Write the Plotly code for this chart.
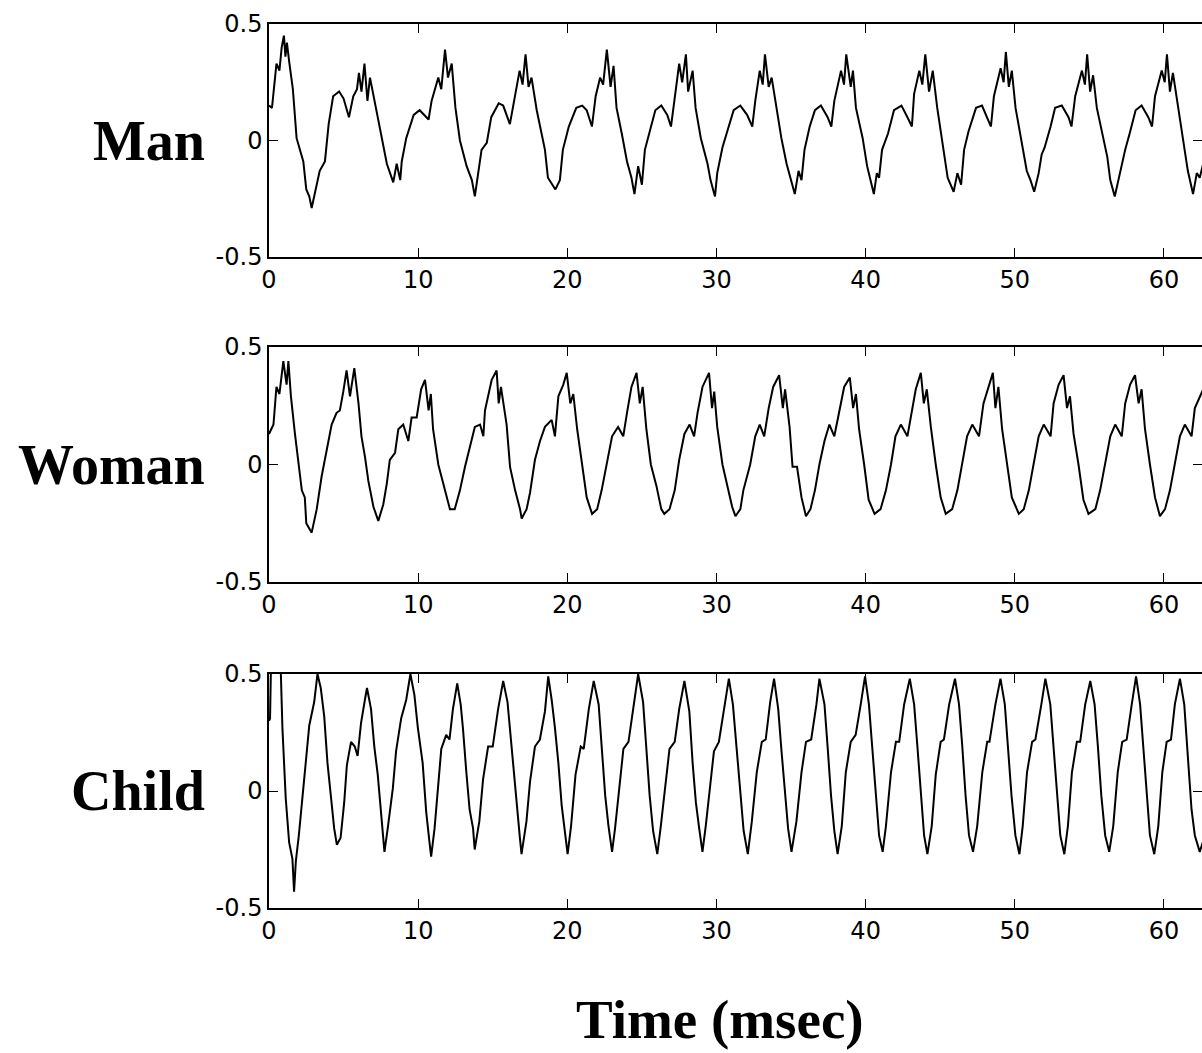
import plotly.graph_objects as go

# ---------------- data ----------------
man_t = [0.0, 0.2, 0.5, 0.7, 0.85, 1.0, 1.1, 1.2, 1.35, 1.6, 1.85, 2.3, 2.5, 2.7, 2.86, 3.08, 3.4, 3.75,
         4.0, 4.3, 4.7, 5.0, 5.36, 5.65, 5.9, 6.03, 6.2, 6.4, 6.6, 6.77, 7.2, 7.55, 7.9, 8.33, 8.56, 8.8,
         8.9, 9.2, 9.7, 10.1, 10.7, 10.9, 11.35, 11.55, 11.8, 12.0, 12.25, 12.5, 12.8, 13.25, 13.6, 13.8,
         14.0, 14.25, 14.6, 14.9, 15.4, 15.7, 16.15, 16.5, 16.8, 17.0, 17.2, 17.4, 17.6, 17.95, 18.5, 18.7,
         19.2, 19.5, 19.7, 20.1, 20.6, 21.0, 21.3, 21.65, 21.9, 22.2, 22.4, 22.65, 22.9, 23.1, 23.3, 23.65,
         24.0, 24.3, 24.5, 24.75, 25.0, 25.2, 25.5, 25.9, 26.3, 26.7, 26.95, 27.2, 27.5, 27.7, 27.95, 28.1,
         28.4, 28.6, 28.95, 29.4, 29.6, 29.9, 30.05, 30.4, 30.7, 31.15, 31.6, 32.05, 32.4, 32.6, 32.9, 33.1,
         33.25, 33.5, 33.7, 34.0, 34.35, 34.7, 35.0, 35.25, 35.5, 35.7, 35.9, 36.25, 36.6, 37.0, 37.45, 37.7,
         37.9, 38.35, 38.55, 38.7, 39.0, 39.15, 39.35, 39.8, 40.1, 40.55, 40.75, 40.9, 41.1, 41.5, 41.9,
         42.4, 42.8, 43.1, 43.25, 43.6, 43.8, 44.0, 44.25, 44.5, 44.8, 45.15, 45.5, 45.9, 46.15, 46.4, 46.6,
         46.9, 47.4, 47.8, 48.4, 48.6, 49.05, 49.25, 49.4, 49.6, 49.8, 50.05, 50.4, 50.8, 51.05, 51.3, 51.6,
         51.8, 52.0, 52.4, 52.7, 53.15, 53.6, 53.8, 54.05, 54.5, 54.7, 54.85, 55.05, 55.25, 55.5, 55.85,
         56.2, 56.4, 56.7, 57.05, 57.4, 57.7, 58.1, 58.5, 58.95, 59.2, 59.4, 59.85, 60.05, 60.2, 60.4, 60.6,
         60.95, 61.3, 61.6, 61.95, 62.2, 62.4, 62.7]
man_v = [0.15, 0.14, 0.33, 0.30, 0.40, 0.45, 0.36, 0.42, 0.34, 0.22, 0.01, -0.09, -0.21, -0.24, -0.29, -0.23, -0.13, -0.09,
         0.07, 0.19, 0.21, 0.18, 0.10, 0.19, 0.22, 0.29, 0.21, 0.33, 0.17, 0.27, 0.13, 0.03, -0.10, -0.18, -0.10, -0.17,
         -0.09, 0.01, 0.11, 0.13, 0.09, 0.17, 0.27, 0.22, 0.39, 0.27, 0.33, 0.14, 0.0, -0.11, -0.17, -0.24,
         -0.14, -0.04, -0.01, 0.10, 0.16, 0.15, 0.07, 0.20, 0.30, 0.24, 0.37, 0.23, 0.27, 0.13, -0.04, -0.16,
         -0.21, -0.17, -0.04, 0.06, 0.14, 0.15, 0.13, 0.06, 0.19, 0.27, 0.24, 0.39, 0.23, 0.32, 0.14, 0.03,
         -0.09, -0.16, -0.23, -0.11, -0.19, -0.04, 0.03, 0.13, 0.15, 0.11, 0.06, 0.19, 0.33, 0.25, 0.37, 0.21,
         0.30, 0.14, 0.01, -0.10, -0.17, -0.24, -0.14, -0.03, 0.03, 0.13, 0.15, 0.11, 0.06, 0.17, 0.30, 0.24,
         0.37, 0.23, 0.27, 0.14, 0.01, -0.10, -0.17, -0.23, -0.13, -0.17, -0.04, 0.06, 0.13, 0.15, 0.10, 0.06,
         0.17, 0.30, 0.24, 0.37, 0.23, 0.30, 0.14, 0.01, -0.11, -0.23, -0.14, -0.16, -0.04, 0.03, 0.13,
         0.15, 0.10, 0.06, 0.20, 0.30, 0.24, 0.37, 0.21, 0.30, 0.14, 0.0, -0.16, -0.22, -0.14, -0.19, -0.04,
         0.04, 0.14, 0.15, 0.06, 0.19, 0.31, 0.25, 0.38, 0.23, 0.30, 0.14, 0.01, -0.13, -0.17, -0.22, -0.14,
         -0.06, -0.03, 0.06, 0.14, 0.15, 0.10, 0.06, 0.19, 0.30, 0.24, 0.37, 0.21, 0.28, 0.14, 0.03,
         -0.07, -0.17, -0.24, -0.14, -0.04, 0.03, 0.13, 0.15, 0.10, 0.06, 0.19, 0.30, 0.25, 0.37, 0.21, 0.29,
         0.14, 0.01, -0.13, -0.23, -0.14, -0.16, -0.08]

woman_t = [0.0, 0.3, 0.5, 0.7, 0.96, 1.1, 1.18, 1.3, 1.47, 1.74, 1.97, 2.2, 2.4, 2.5, 2.86, 3.2, 3.53, 3.87,
           4.2, 4.53, 4.75, 4.98, 5.2, 5.43, 5.72, 6.0, 6.2, 6.44, 6.66, 7.0, 7.33, 7.66, 7.9, 8.1, 8.45, 8.67,
           9.0, 9.34, 9.56, 9.9, 10.2, 10.46, 10.7, 10.85, 11.0, 11.35, 11.8, 12.13, 12.45, 12.8, 13.14, 13.5,
           13.8, 14.15, 14.37, 14.48, 14.93, 15.26, 15.4, 15.55, 15.93, 16.16, 16.5, 16.83, 16.94, 17.27, 17.5,
           17.83, 18.17, 18.5, 18.95, 19.17, 19.4, 19.73, 19.96, 20.2, 20.4, 20.66, 21.0, 21.3, 21.66, 22.0,
           22.3, 22.65, 23.0, 23.4, 23.75, 24.0, 24.3, 24.64, 24.86, 25.05, 25.3, 25.6, 25.97, 26.3, 26.5,
           26.85, 27.2, 27.5, 27.85, 28.2, 28.5, 28.73, 29.06, 29.5, 29.7, 29.85, 30.05, 30.4, 30.7, 31.05,
           31.27, 31.6, 31.8, 32.26, 32.6, 32.9, 33.2, 33.5, 33.8, 34.2, 34.45, 34.6, 34.9, 35.1, 35.4, 35.7,
           36.0, 36.3, 36.6, 36.9, 37.24, 37.57, 37.9, 38.2, 38.56, 38.94, 39.16, 39.35, 39.56, 39.9, 40.2,
           40.6, 41.0, 41.36, 41.7, 42.0, 42.36, 42.8, 43.14, 43.36, 43.7, 43.9, 44.1, 44.37, 44.7, 45.03,
           45.37, 45.8, 46.15, 46.5, 46.8, 47.15, 47.6, 47.9, 48.26, 48.53, 48.7, 48.9, 49.15, 49.5, 49.8,
           50.27, 50.6, 50.94, 51.27, 51.6, 51.94, 52.4, 52.6, 52.94, 53.27, 53.5, 53.7, 53.94, 54.27, 54.6,
           54.94, 55.4, 55.72, 56.06, 56.4, 56.73, 57.17, 57.4, 57.73, 58.06, 58.3, 58.5, 58.73, 59.06, 59.4,
           59.73, 60.07, 60.4, 60.73, 61.07, 61.4, 61.85, 62.07, 62.4, 62.7]
woman_v = [0.13, 0.17, 0.33, 0.30, 0.44, 0.36, 0.34, 0.44, 0.29, 0.13, 0.0, -0.11, -0.14, -0.25, -0.29, -0.19, -0.05, 0.07,
           0.17, 0.22, 0.23, 0.31, 0.40, 0.29, 0.41, 0.26, 0.12, 0.03, -0.07, -0.18, -0.24, -0.17, -0.08, 0.02, 0.05, 0.15,
           0.17, 0.10, 0.20, 0.20, 0.32, 0.36, 0.23, 0.30, 0.15, 0.0, -0.11, -0.19, -0.19, -0.11, -0.01, 0.09,
           0.16, 0.17, 0.12, 0.23, 0.36, 0.40, 0.26, 0.33, 0.17, -0.01, -0.11, -0.19, -0.23, -0.19, -0.12,
           0.02, 0.10, 0.16, 0.19, 0.12, 0.29, 0.34, 0.39, 0.26, 0.30, 0.15, -0.01, -0.14, -0.21, -0.19,
           -0.11, 0.0, 0.12, 0.16, 0.12, 0.22, 0.33, 0.39, 0.26, 0.33, 0.15, 0.0, -0.09, -0.19, -0.21,
           -0.19, -0.11, 0.02, 0.13, 0.17, 0.12, 0.22, 0.33, 0.39, 0.24, 0.31, 0.16, 0.0, -0.09, -0.18,
           -0.22, -0.19, -0.11, 0.0, 0.12, 0.17, 0.12, 0.24, 0.33, 0.38, 0.24, 0.32, 0.16, -0.01, -0.01, -0.14,
           -0.22, -0.19, -0.11, 0.0, 0.10, 0.17, 0.12, 0.22, 0.33, 0.37, 0.24, 0.30, 0.15, 0.0, -0.15,
           -0.21, -0.19, -0.11, 0.0, 0.12, 0.17, 0.12, 0.24, 0.32, 0.39, 0.26, 0.32, 0.16, 0.0, -0.14,
           -0.21, -0.19, -0.11, 0.02, 0.12, 0.17, 0.12, 0.26, 0.34, 0.39, 0.24, 0.33, 0.15, 0.0, -0.14,
           -0.21, -0.19, -0.11, 0.0, 0.12, 0.17, 0.12, 0.26, 0.34, 0.38, 0.24, 0.29, 0.13, 0.0, -0.15,
           -0.21, -0.19, -0.11, 0.0, 0.12, 0.17, 0.12, 0.26, 0.34, 0.38, 0.26, 0.32, 0.15, 0.0, -0.14,
           -0.22, -0.19, -0.11, 0.0, 0.12, 0.17, 0.12, 0.24, 0.29, 0.33]

child_t = [0.0, 0.07, 0.15, 0.3, 0.75, 0.9, 1.12, 1.35, 1.57, 1.68, 1.8, 2.0, 2.24, 2.47, 2.7, 3.03, 3.25, 3.47,
           3.7, 3.92, 4.15, 4.37, 4.55, 4.8, 5.04, 5.22, 5.5, 5.75, 5.94, 6.17, 6.43, 6.57, 6.84, 7.06, 7.29,
           7.5, 7.74, 7.96, 8.3, 8.52, 8.86, 9.2, 9.48, 9.75, 9.98, 10.3, 10.54, 10.76, 10.87, 11.1, 11.32,
           11.55, 11.88, 12.1, 12.33, 12.62, 12.85, 13.0, 13.23, 13.45, 13.68, 13.79, 14.1, 14.35, 14.69, 15.0,
           15.36, 15.7, 15.99, 16.14, 16.37, 16.6, 16.82, 16.93, 17.26, 17.5, 17.83, 18.16, 18.5, 18.72, 18.95,
           19.17, 19.4, 19.62, 19.84, 20.02, 20.25, 20.55, 20.9, 21.1, 21.44, 21.77, 22.1, 22.32, 22.54, 22.76,
           23.0, 23.2, 23.43, 23.76, 24.1, 24.42, 24.75, 25.08, 25.3, 25.52, 25.75, 26.03, 26.25, 26.5, 26.85,
           27.2, 27.5, 27.85, 28.18, 28.4, 28.62, 28.84, 29.06, 29.28, 29.5, 29.83, 30.16, 30.5, 30.83, 31.1,
           31.34, 31.6, 31.82, 32.1, 32.37, 32.7, 33.04, 33.3, 33.6, 33.86, 34.14, 34.36, 34.59, 34.8, 35.03,
           35.36, 35.7, 36.0, 36.35, 36.7, 36.9, 37.24, 37.46, 37.68, 37.9, 38.12, 38.4, 38.67, 39.0, 39.33,
           39.67, 39.96, 40.22, 40.44, 40.66, 40.9, 41.14, 41.36, 41.7, 42.03, 42.25, 42.58, 42.96, 43.25,
           43.47, 43.7, 43.92, 44.14, 44.43, 44.7, 45.03, 45.25, 45.6, 45.99, 46.26, 46.48, 46.7, 46.93, 47.2,
           47.48, 47.82, 48.15, 48.3, 48.7, 49.04, 49.33, 49.55, 49.78, 50.04, 50.31, 50.53, 50.82, 51.16,
           51.38, 51.78, 52.05, 52.38, 52.6, 52.83, 53.05, 53.32, 53.56, 53.83, 54.16, 54.38, 54.72, 55.06,
           55.35, 55.57, 55.8, 56.06, 56.33, 56.6, 56.9, 57.2, 57.5, 57.84, 58.13, 58.4, 58.62, 58.84, 59.06,
           59.35, 59.62, 59.89, 60.18, 60.47, 60.73, 61.07, 61.36, 61.63, 61.85, 62.07, 62.4, 62.7]
child_v = [0.30, 0.31, 0.60, 0.60, 0.60, 0.27, -0.03, -0.22, -0.29, -0.43, -0.30, -0.19, -0.02, 0.12, 0.28, 0.38, 0.50, 0.44,
           0.32, 0.12, -0.02, -0.16, -0.23, -0.20, -0.05, 0.11, 0.21, 0.19, 0.15, 0.29, 0.39, 0.44, 0.35, 0.19, 0.07,
           -0.09, -0.26, -0.16, 0.01, 0.17, 0.31, 0.39, 0.50, 0.41, 0.27, 0.12, -0.09, -0.22, -0.28, -0.16, 0.01,
           0.18, 0.24, 0.22, 0.35, 0.46, 0.37, 0.27, 0.08, -0.08, -0.16, -0.25, -0.13, 0.05, 0.19, 0.19,
           0.35, 0.47, 0.38, 0.27, 0.12, -0.06, -0.20, -0.27, -0.13, 0.04, 0.19, 0.22, 0.34, 0.49, 0.39,
           0.27, 0.12, -0.06, -0.19, -0.27, -0.15, 0.07, 0.19, 0.18, 0.35, 0.47, 0.37, 0.18, -0.02, -0.15,
           -0.26, -0.16, -0.02, 0.18, 0.21, 0.35, 0.50, 0.38, 0.18, -0.02, -0.17, -0.27, -0.16, -0.02, 0.18,
           0.21, 0.35, 0.47, 0.34, 0.12, -0.05, -0.16, -0.26, -0.15, -0.02, 0.17, 0.21, 0.35, 0.48, 0.37,
           0.18, -0.02, -0.17, -0.27, -0.13, 0.08, 0.21, 0.22, 0.38, 0.48, 0.35, 0.17, -0.02, -0.16, -0.26,
           -0.13, 0.08, 0.21, 0.22, 0.37, 0.48, 0.37, 0.18, -0.02, -0.17, -0.27, -0.15, 0.08, 0.21, 0.24,
           0.37, 0.49, 0.37, 0.19, -0.02, -0.19, -0.26, -0.15, 0.08, 0.21, 0.21, 0.37, 0.48, 0.37,
           0.19, -0.02, -0.19, -0.27, -0.15, 0.07, 0.21, 0.22, 0.37, 0.48, 0.37, 0.19, -0.02, -0.19, -0.26,
           -0.15, 0.08, 0.21, 0.21, 0.37, 0.48, 0.37, 0.19, -0.02, -0.19, -0.27, -0.15, 0.08, 0.21,
           0.22, 0.37, 0.48, 0.37, 0.19, -0.02, -0.19, -0.27, -0.15, 0.08, 0.21, 0.21, 0.37, 0.47,
           0.37, 0.19, -0.02, -0.19, -0.26, -0.15, 0.08, 0.21, 0.22, 0.37, 0.49, 0.37, 0.19, -0.02, -0.19,
           -0.27, -0.15, 0.08, 0.21, 0.22, 0.37, 0.48, 0.37, 0.12, -0.08, -0.19, -0.26, -0.20]

panel_labels = ["Man", "Woman", "Child"]
x_tick_vals = [0, 10, 20, 30, 40, 50, 60]
x_tick_text = ["0", "10", "20", "30", "40", "50", "60"]
y_tick_vals = [-0.5, 0, 0.5]
y_tick_text = ["-0.5", "0", "0.5"]
x_title = "Time (msec)"

# ---------------- layout geometry (pixels) ----------------
W, H = 1202, 1053
plot_left = 269
panels_px = [(24, 257), (347, 582), (674, 908)]  # top, bottom of each frame
label_right = 207


def py(p):
    return 1 - p / H


fig = go.Figure()
series = [(man_t, man_v), (woman_t, woman_v), (child_t, child_v)]
for i, (t, v) in enumerate(series):
    suffix = "" if i == 0 else str(i + 1)
    fig.add_trace(go.Scatter(x=t, y=v, mode="lines", xaxis="x" + suffix, yaxis="y" + suffix,
                             line=dict(color="black", width=2), showlegend=False, hoverinfo="skip"))

axis_common = dict(showline=True, linecolor="black", linewidth=1.5, mirror="ticks",
                   ticks="inside", ticklen=9, tickwidth=1.3, tickcolor="black",
                   showgrid=False, zeroline=False, automargin=False,
                   tickfont=dict(family="DejaVu Sans, Arial", size=24, color="black"))

layout = dict(width=W, height=H, margin=dict(l=0, r=0, t=0, b=0),
              paper_bgcolor="white", plot_bgcolor="white", showlegend=False,
              template="none")
annotations = []
for i, (top, bot) in enumerate(panels_px):
    suffix = "" if i == 0 else str(i + 1)
    layout["xaxis" + suffix] = dict(axis_common, domain=[plot_left / W, 1], range=[0, 62.55],
                                    tickvals=x_tick_vals, ticktext=x_tick_text,
                                    anchor="y" + suffix)
    layout["yaxis" + suffix] = dict(axis_common, domain=[py(bot), py(top)], range=[-0.5, 0.5],
                                    tickvals=y_tick_vals, ticktext=y_tick_text,
                                    anchor="x" + suffix)
    mid = (top + bot) / 2
    annotations.append(dict(text=panel_labels[i], xref="paper", yref="paper",
                            x=label_right / W, y=py(mid), xanchor="right", yanchor="middle",
                            showarrow=False,
                            font=dict(family="Liberation Serif, Times New Roman", size=56,
                                      color="black", weight="bold")))
annotations.append(dict(text=x_title, xref="paper", yref="paper", x=720 / W, y=py(1019),
                        xanchor="center", yanchor="middle", showarrow=False,
                        font=dict(family="Liberation Serif, Times New Roman", size=55,
                                  color="black", weight="bold")))
layout["annotations"] = annotations
fig.update_layout(**layout)

fig.write_html("out.html")
